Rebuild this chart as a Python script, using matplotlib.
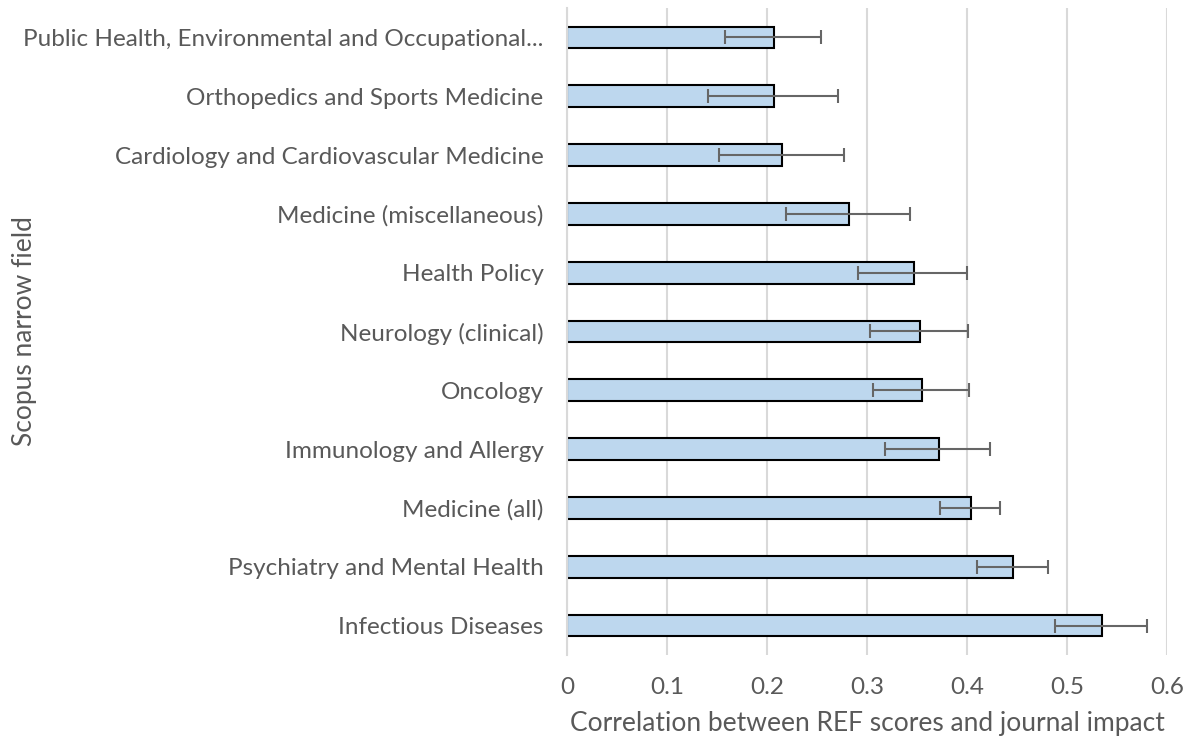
import matplotlib
matplotlib.use("Agg")
import matplotlib.pyplot as plt
import numpy as np

# data (top to bottom)
fields = [
    "Public Health, Environmental and Occupational...",
    "Orthopedics and Sports Medicine",
    "Cardiology and Cardiovascular Medicine",
    "Medicine (miscellaneous)",
    "Health Policy",
    "Neurology (clinical)",
    "Oncology",
    "Immunology and Allergy",
    "Medicine (all)",
    "Psychiatry and Mental Health",
    "Infectious Diseases",
]
corr = [0.207, 0.207, 0.215, 0.282, 0.347, 0.353, 0.355, 0.372, 0.404, 0.446, 0.535]
ci_low = [0.158, 0.141, 0.152, 0.219, 0.291, 0.303, 0.306, 0.318, 0.373, 0.410, 0.488]
ci_high = [0.254, 0.271, 0.277, 0.343, 0.400, 0.401, 0.402, 0.423, 0.433, 0.481, 0.580]
xticks = [0, 0.1, 0.2, 0.3, 0.4, 0.5, 0.6]

plt.rcParams['font.family'] = ['Lato', 'DejaVu Sans']
TXT = '#595959'

fig = plt.figure(figsize=(11.93, 7.45), dpi=100)
ax = fig.add_axes([567 / 1193, 1 - 655 / 745, 600 / 1193, 647 / 745])

y = np.arange(len(fields))
corr = np.array(corr)
xerr = np.vstack([corr - np.array(ci_low), np.array(ci_high) - corr])

ax.barh(y, corr, height=0.37, color='#BDD7EE', edgecolor='black', linewidth=1.5, zorder=2)
ax.errorbar(corr, y, xerr=xerr, fmt='none', ecolor='#666666', elinewidth=1.5,
            capsize=5, capthick=1.5, zorder=3)

ax.set_xlim(0, 0.6)
ax.set_ylim(len(fields) - 0.5, -0.5)
ax.set_xticks(xticks)
ax.set_xticklabels([f"{t:g}" for t in xticks])
ax.set_yticks(y)
ax.set_yticklabels(fields)

ax.grid(axis='x', color='#D9D9D9', linewidth=1.5, zorder=0)
ax.set_axisbelow(True)
for s in ['top', 'right', 'bottom']:
    ax.spines[s].set_visible(False)
ax.spines['left'].set_color('#D9D9D9')
ax.spines['left'].set_linewidth(1.5)
ax.tick_params(axis='both', length=0, labelsize=17.5, colors=TXT)
ax.tick_params(axis='y', pad=17)
ax.tick_params(axis='x', pad=16)

ax.set_xlabel("Correlation between REF scores and journal impact", fontsize=19, color=TXT, labelpad=9)
ax.set_ylabel("Scopus narrow field", fontsize=19, color=TXT)
ax.yaxis.set_label_coords((37 - 567) / 600, 0.5)

fig.savefig("out.png", dpi=100)
